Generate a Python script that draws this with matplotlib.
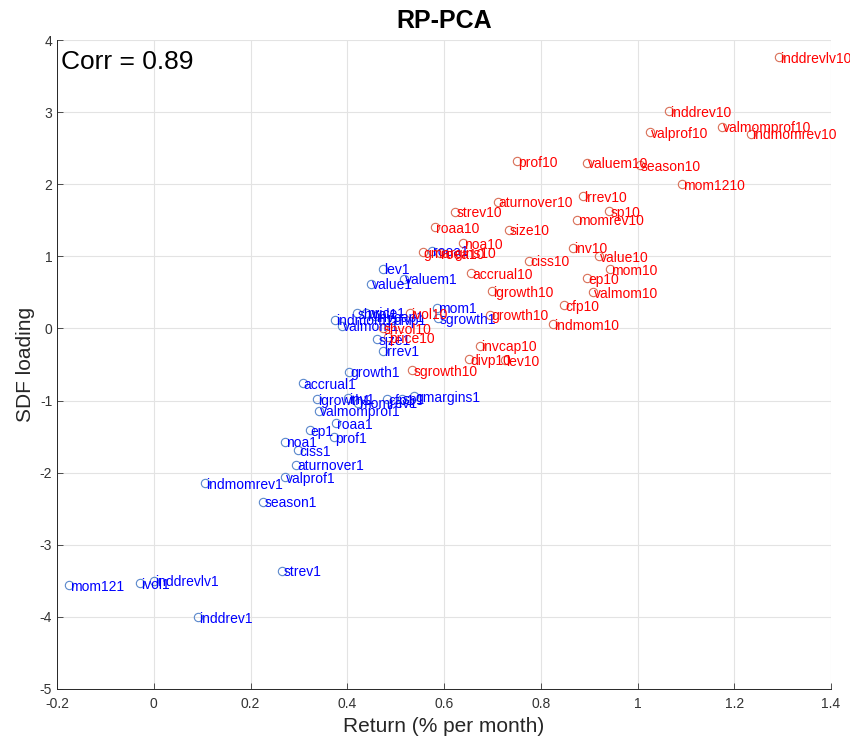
import matplotlib
matplotlib.use("Agg")
import matplotlib.pyplot as plt

plt.rcParams['font.family'] = ['Liberation Sans', 'DejaVu Sans']
plt.rcParams['axes.unicode_minus'] = False

names = ["accrual", "aturnover", "cfp", "ciss", "divp", "ep", "gmargins", "growth",
         "igrowth", "indmom", "indmomrev", "inddrev", "inddrevlv", "inv", "invcap",
         "ivol", "lev", "lrrev", "mom", "mom12", "momrev", "noa", "price", "prof",
         "roaa", "roea", "season", "sgrowth", "shvol", "size", "sp", "strev", "value",
         "valmom", "valmomprof", "valprof", "valuem"]

# decile 1 (blue)
x1 = [0.308, 0.295, 0.483, 0.299, 0.493, 0.322, 0.539, 0.404,
      0.337, 0.375, 0.105, 0.091, 0.001, 0.402, 0.457,
      -0.028, 0.474, 0.474, 0.586, -0.175, 0.422, 0.271, 0.439, 0.373,
      0.376, 0.575, 0.226, 0.588, 0.420, 0.462, 0.513, 0.266, 0.449,
      0.389, 0.342, 0.272, 0.517]
y1 = [-0.76, -1.89, -0.985, -1.69, 0.12, -1.41, -0.94, -0.60,
      -0.98, 0.12, -2.15, -4.00, -3.50, -0.97, 0.17,
      -3.53, 0.83, -0.31, 0.29, -3.56, -1.03, -1.57, 0.22, -1.51,
      -1.31, 1.08, -2.40, 0.14, 0.21, -0.15, -0.975, -3.36, 0.62,
      0.04, -1.14, -2.06, 0.69]

# decile 10 (red)
x10 = [0.656, 0.711, 0.848, 0.776, 0.652, 0.896, 0.556, 0.695,
       0.699, 0.826, 1.234, 1.065, 1.293, 0.866, 0.674,
       0.530, 0.726, 0.887, 0.943, 1.091, 0.874, 0.639, 0.484, 0.750,
       0.581, 0.592, 1.005, 0.534, 0.474, 0.734, 0.942, 0.623, 0.920,
       0.907, 1.174, 1.026, 0.896]
y10 = [0.77, 1.76, 0.32, 0.94, -0.43, 0.70, 1.06, 0.19,
       0.52, 0.055, 2.70, 3.01, 3.76, 1.12, -0.24,
       0.21, -0.44, 1.83, 0.82, 2.00, 1.51, 1.18, -0.12, 2.32,
       1.40, 1.04, 2.26, -0.58, 0.00, 1.37, 1.63, 1.62, 1.00,
       0.50, 2.80, 2.72, 2.30]

corr_text = "Corr = 0.89"
title = "RP-PCA"
xticks = [-0.2, 0, 0.2, 0.4, 0.6, 0.8, 1, 1.2, 1.4]
xticklabels = ["-0.2", "0", "0.2", "0.4", "0.6", "0.8", "1", "1.2", "1.4"]
yticks = [-5, -4, -3, -2, -1, 0, 1, 2, 3, 4]

fig = plt.figure(figsize=(8.5, 7.43), dpi=100)
ax = fig.add_axes([57/850, 1-689/743, (831-57)/850, (689-40)/743])

blue_m = '#5A88CC'
red_m = '#D97058'
ax.plot(x1, y1, 'o', mfc='none', mec=blue_m, ms=6, mew=0.8, zorder=3)
ax.plot(x10, y10, 'o', mfc='none', mec=red_m, ms=6, mew=0.8, zorder=3)
for n, xv, yv in zip(names, x1, y1):
    ax.annotate(n + "1", (xv, yv), xytext=(0.8, -1.2), textcoords='offset points',
                ha='left', va='center', color='#0000FF', fontsize=10, zorder=4)
for n, xv, yv in zip(names, x10, y10):
    ax.annotate(n + "10", (xv, yv), xytext=(0.8, -1.2), textcoords='offset points',
                ha='left', va='center', color='#FF0000', fontsize=10, zorder=4)

ax.set_xlim(-0.2, 1.4)
ax.set_ylim(-5, 4)
ax.set_xticks(xticks)
ax.set_xticklabels(xticklabels)
ax.set_yticks(yticks)
ax.grid(True, color='#e3e3e3', linewidth=0.8)
ax.set_axisbelow(True)
for s in ['top', 'right']:
    ax.spines[s].set_visible(False)
for s in ['left', 'bottom']:
    ax.spines[s].set_color('#262626')
    ax.spines[s].set_linewidth(0.7)
ax.tick_params(direction='in', length=4, width=0.6, colors='#333333', labelsize=10)
ax.tick_params(axis='x', pad=6)

ax.set_xlabel("Return (% per month)", fontsize=15, color='#262626', labelpad=4)
ax.set_ylabel("SDF loading", fontsize=15, color='#262626', labelpad=3)
ax.set_title(title, fontsize=18, fontweight='bold', color='black', pad=9)
ax.text(0.005, 0.985, corr_text, transform=ax.transAxes, ha='left', va='top',
        fontsize=19, color='black')

fig.savefig("out.png", dpi=100)
